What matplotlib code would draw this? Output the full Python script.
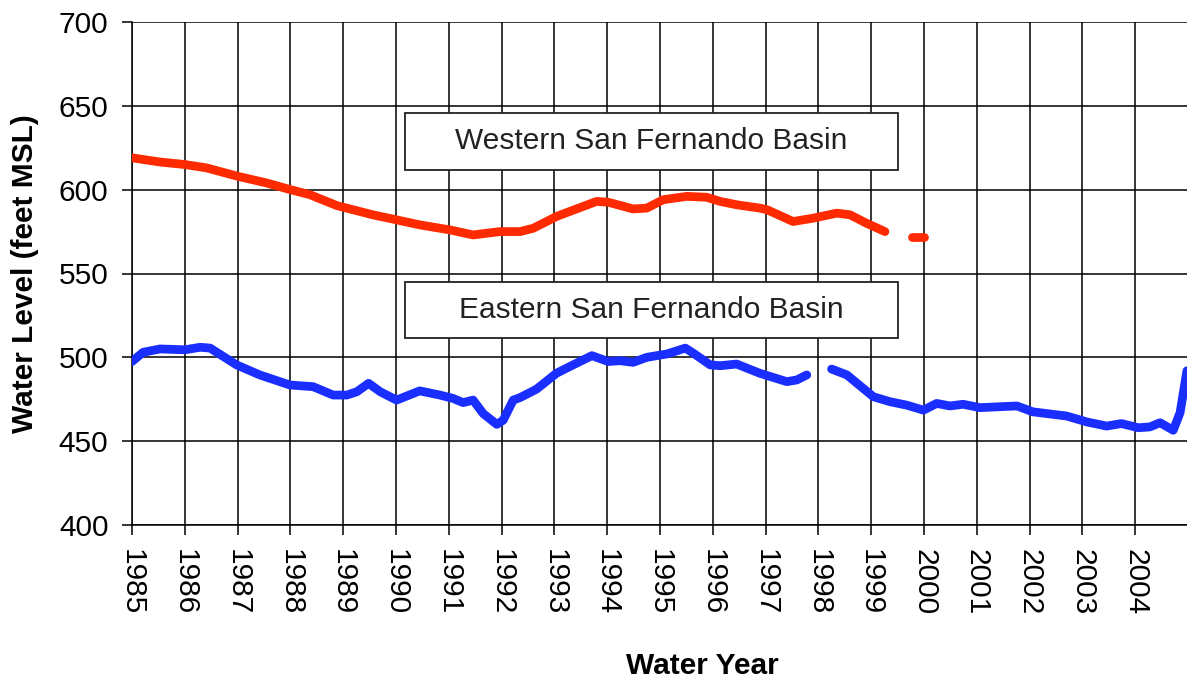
import matplotlib
matplotlib.use("Agg")
import matplotlib.pyplot as plt
from matplotlib.patches import Rectangle

plt.rcParams['font.family'] = ['Liberation Sans', 'DejaVu Sans']

# Western San Fernando Basin (solid part)
west_year = [1985.0, 1985.53, 1986.0, 1986.41, 1987.0, 1987.55, 1988.0, 1988.37, 1988.88,
             1989.56, 1990.01, 1990.45, 1991.02, 1991.46, 1991.97, 1992.35, 1992.6, 1993.04,
             1993.29, 1993.8, 1994.02, 1994.49, 1994.75, 1995.06, 1995.51, 1995.88, 1996.14,
             1996.45, 1996.89, 1997.03, 1997.52, 1997.9, 1998.35, 1998.6, 1998.91, 1999.26]
west_level = [619, 616.5, 615, 613, 608, 604, 600, 597, 590.5,
              585, 582, 579, 576, 573, 575, 575, 577, 584,
              587, 593, 592.5, 588.5, 589, 594, 596, 595.5, 593,
              591, 589, 588, 581, 583, 586, 585, 580, 575]
# Western short segment after gap
west2_year = [1999.78, 2000.0]
west2_level = [572, 572]

# Eastern San Fernando Basin (before gap)
east_year = [1985.0, 1985.21, 1985.53, 1986.0, 1986.29, 1986.48, 1986.98, 1987.42, 1987.99,
             1988.43, 1988.81, 1989.07, 1989.26, 1989.48, 1989.7, 1990.01, 1990.45, 1990.83,
             1991.08, 1991.27, 1991.46, 1991.65, 1991.91, 1992.03, 1992.22, 1992.35, 1992.66,
             1993.04, 1993.29, 1993.71, 1994.02, 1994.24, 1994.49, 1994.75, 1995.13, 1995.48,
             1995.63, 1995.95, 1996.14, 1996.45, 1996.89, 1997.4, 1997.59, 1997.78]
east_level = [497.5, 503, 505, 504.5, 506, 505.5, 495.5, 489.5, 483.5,
              482.5, 477.5, 477.5, 479.5, 484.5, 479.5, 474.5, 480, 477.5,
              475.5, 473, 474.5, 466.5, 460, 462.5, 474.5, 476, 481,
              490.5, 494.5, 501, 497.5, 498, 497, 500, 502, 505.5,
              502.5, 495.5, 495, 496, 490.5, 485.5, 486.5, 489.5]
# Eastern after gap
east2_year = [1998.25, 1998.54, 1999.04, 1999.36, 1999.67, 1999.99, 2000.24, 2000.49, 2000.74,
              2001.06, 2001.76, 2002.06, 2002.7, 2003.08, 2003.46, 2003.74, 2004.06, 2004.28,
              2004.47, 2004.72, 2004.85, 2004.98]
east2_level = [493, 489.5, 476.5, 473.5, 471.5, 468.5, 472.5, 471, 472,
               470, 471, 467.5, 465, 461.5, 459, 460.5, 458, 458.5,
               461, 456.5, 467, 492]

year_ticks = list(range(1985, 2005))
level_ticks = [400, 450, 500, 550, 600, 650, 700]

fig = plt.figure(figsize=(11.87, 6.79), dpi=100)
ax = fig.add_axes([132/1187, 1 - 525/679, (1188-132)/1187, (525-22)/679])

red = '#ff2a00'
blue = '#1a2eff'
lw = 6.3
ax.plot(west_year, west_level, color=red, lw=lw, solid_capstyle='round', solid_joinstyle='round', zorder=3)
ax.plot(west2_year, west2_level, color=red, lw=lw, solid_capstyle='round', zorder=3)
ax.plot(east_year, east_level, color=blue, lw=lw, solid_capstyle='round', solid_joinstyle='round', zorder=3)
ax.plot(east2_year, east2_level, color=blue, lw=lw, solid_capstyle='round', solid_joinstyle='round', zorder=3)

ax.set_xlim(1985, 2005)
ax.set_ylim(400, 700)
ax.set_xticks(year_ticks)
ax.set_xticklabels([str(y) for y in year_ticks], rotation=270, fontsize=21.5)
ax.set_yticks(level_ticks)
ax.set_yticklabels([str(v) for v in level_ticks], fontsize=21.5)
ax.tick_params(axis='both', direction='out', length=7, width=1.1, color='black', pad=10)
ax.grid(True, color='black', lw=1.1, zorder=1)
ax.set_axisbelow(True)
for s in ['top', 'right']:
    ax.spines[s].set_visible(False)
for s in ['left', 'bottom']:
    ax.spines[s].set_linewidth(1.1)

# Label boxes
for (y0, y1, label) in [(0.7058, 0.8191, 'Western San Fernando Basin'),
                        (0.3718, 0.4831, 'Eastern San Fernando Basin')]:
    r = Rectangle((0.2588, y0), 0.7251 - 0.2588, y1 - y0, transform=ax.transAxes,
                  facecolor='white', edgecolor='#222222', lw=1.3, zorder=2)
    ax.add_patch(r)
    ax.text((0.2588 + 0.7251) / 2, (y0 + y1) / 2, label, transform=ax.transAxes,
            ha='center', va='center', fontsize=21.5, color='#222222', zorder=4)

fig.text(25/1187, 1 - 274/679, 'Water Level (feet MSL)', rotation=90, ha='center', va='center',
         fontsize=21.5, fontweight='bold')
fig.text(702/1187, 1 - 666/679, 'Water Year', ha='center', va='center',
         fontsize=21.5, fontweight='bold')

fig.savefig('out.png', dpi=100)
